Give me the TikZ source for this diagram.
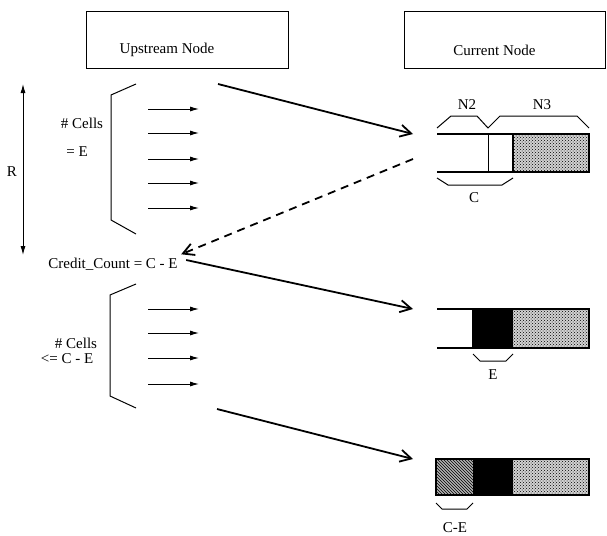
\documentclass[tikz,border=0pt]{standalone}
\usepackage{fontspec}
\setmainfont{Liberation Serif}
\usetikzlibrary{arrows.meta,patterns}
\tikzset{
  nodebox/.style={draw,line width=1pt,minimum width=202pt,minimum height=57pt,inner sep=0pt},
  bigarrow/.style={line width=1.8pt,-{Straight Barb[length=11pt,width=12pt]}},
  cellarrow/.style={line width=1pt,-{Latex[length=9pt,width=5pt]}},
  rowline/.style={line width=1.8pt},
  bracket/.style={line width=1pt},
  stipple/.style={fill=gray!35,postaction={pattern=crosshatch dots,pattern color=black}},
}
\begin{document}
\begin{tikzpicture}[x=1pt,y=-1pt,font=\fontsize{15}{18}\selectfont]
\useasboundingbox (0,0) rectangle (607,535);
% Boxes
\node[nodebox] (upstream) at (187,40) {};
\node at ([xshift=-20pt,yshift=-10pt]upstream.center) {Upstream Node};
\node[nodebox,minimum width=201pt] (current) at (504.5,40) {};
\node at ([xshift=-10pt,yshift=-10pt]current.center) {Current Node};
% Round trip R
\draw[line width=1pt,{Latex[length=9pt,width=5pt]}-{Latex[length=9pt,width=5pt]}] (23,84) coordinate (rtop) -- (23,255) coordinate (rbot);
\node at (12,172) {R};
% First batch of cells
\draw[bracket] (136,84) -- (111,95) -- (111,220) -- (136,234);
\foreach \y in {109,133,159,183,208}
  \draw[cellarrow] (148,\y) -- (199,\y);
\node at (82,123) {\# Cells};
\node at (77,152) {= E};
% Credit count
\node (credit) at (113,264) {Credit\_Count = C - E};
% Second batch of cells
\draw[bracket] (136,284) -- (110,295) -- (110,396) -- (136,408);
\foreach \y in {309,333,358,384}
  \draw[cellarrow] (148,\y) -- (199,\y);
\node at (76,343) {\# Cells};
\node at (67,359) {<= C - E};
% First buffer state
\coordinate (rowone) at (413,134);
\path[stipple] (513,134) rectangle (589,172);
\draw[rowline] (437,134) -- (589,134) -- (589,172) -- (437,172);
\draw[line width=1pt] (488,134) -- (488,172);
\draw[rowline] (513,134) -- (513,172);
\draw[bracket] (437,128) -- (451,116) -- (477,116) -- (488,128) -- (500,116) -- (577,116) -- (589,128);
\node at (467,105) {N2};
\node at (542,105) {N3};
\draw[bracket] (437,178) -- (448,185) -- (502,185) -- (513,178);
\node at (474,198) {C};
% Second buffer state
\coordinate (rowtwo) at (413,309);
\fill (473,309) rectangle (513,348);
\path[stipple] (513,309) rectangle (589,348);
\draw[rowline] (437,309) -- (589,309) -- (589,348) -- (437,348);
\draw[rowline] (473,309) -- (473,348);
\draw[bracket] (473,354) -- (480,361) -- (506,361) -- (513,354);
\node at (493,375) {E};
% Third buffer state
\coordinate (rowthree) at (413,459);
\fill[gray!60] (436,459) rectangle (473,495);
\fill[pattern=north west lines] (436,459) rectangle (473,495);
\fill (473,459) rectangle (513,495);
\path[stipple] (513,459) rectangle (589,495);
\draw[rowline] (436,459) rectangle (589,495);
\draw[bracket] (436,503) -- (442,509) -- (467,509) -- (473,503);
\node at (455,528) {C-E};
% Flow of cells and credit
\draw[bigarrow] (218,84) -- (rowone);
\draw[bigarrow,dash pattern=on 8pt off 6pt] (413,159) -- (credit.north east);
\draw[bigarrow] (credit.east) ++(5,-4) coordinate (startone) (startone) -- (rowtwo);
\draw[bigarrow] (217,409) coordinate (starttwo) -- (rowthree);
\end{tikzpicture}
\end{document}
